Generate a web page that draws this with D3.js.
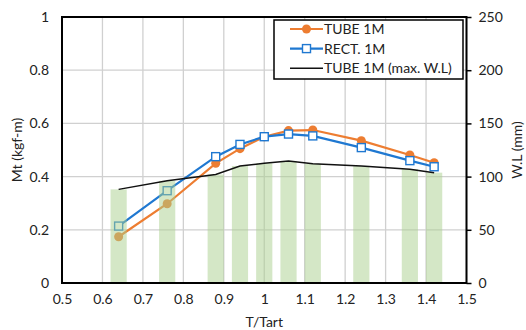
<!DOCTYPE html>
<html>
<head>
<meta charset="utf-8">
<script src="https://cdn.jsdelivr.net/npm/d3@7"></script>
<style>
  body { margin: 0; background: #fff; }
  svg text { font-family: Lato, "Open Sans", sans-serif; fill: #222; }
</style>
</head>
<body>
<div id="chart"></div>
<script>
// data
const ratio = [0.64, 0.76, 0.88, 0.94, 1.0, 1.06, 1.12, 1.24, 1.36, 1.42];
const tubeMt = [0.174, 0.298, 0.45, 0.505, 0.55, 0.573, 0.575, 0.535, 0.481, 0.452];
const rectMt = [0.214, 0.347, 0.475, 0.521, 0.55, 0.56, 0.553, 0.509, 0.46, 0.437];
const tubeWL = [88, 96, 102, 110, 112.5, 114.7, 112, 110, 107, 103.7];
const xTicks = [0.5, 0.6, 0.7, 0.8, 0.9, 1, 1.1, 1.2, 1.3, 1.4, 1.5];
const yTicks = [0, 0.2, 0.4, 0.6, 0.8, 1];
const y2Ticks = [0, 50, 100, 150, 200, 250];

const cfg = { width: 526, height: 330, left: 62, right: 466.5, top: 17, bottom: 283 };
const fontSize = '14px';

const svg = d3.select('#chart').append('svg')
  .attr('width', cfg.width)
  .attr('height', cfg.height);

const x = d3.scaleLinear().domain([0.5, 1.5]).range([cfg.left, cfg.right]);
const y = d3.scaleLinear().domain([0, 1]).range([cfg.bottom, cfg.top]);
const y2 = d3.scaleLinear().domain([0, 250]).range([cfg.bottom, cfg.top]);

// grid
svg.append('g').selectAll('line.vgrid')
  .data(xTicks)
  .join('line')
  .attr('x1', d => x(d)).attr('x2', d => x(d))
  .attr('y1', cfg.top).attr('y2', cfg.bottom)
  .attr('stroke', '#d0d0d0').attr('stroke-width', 1.3);

svg.append('g').selectAll('line.hgrid')
  .data(yTicks)
  .join('line')
  .attr('x1', cfg.left).attr('x2', cfg.right)
  .attr('y1', d => y(d)).attr('y2', d => y(d))
  .attr('stroke', '#d0d0d0').attr('stroke-width', 1.3);

const tube = ratio.map((r, i) => ({ r, v: tubeMt[i] }));
const rect = ratio.map((r, i) => ({ r, v: rectMt[i] }));
const wl = ratio.map((r, i) => ({ r, v: tubeWL[i] }));

const line = d3.line().x(d => x(d.r)).y(d => y(d.v));
const line2 = d3.line().x(d => x(d.r)).y(d => y2(d.v));

// series
svg.append('path').datum(tube)
  .attr('d', line).attr('fill', 'none')
  .attr('stroke', '#ED7D31').attr('stroke-width', 2.2);
svg.append('g').selectAll('circle')
  .data(tube)
  .join('circle')
  .attr('cx', d => x(d.r)).attr('cy', d => y(d.v)).attr('r', 4.5)
  .attr('fill', '#ED7D31');

svg.append('path').datum(rect)
  .attr('d', line).attr('fill', 'none')
  .attr('stroke', '#1F78D1').attr('stroke-width', 2.2);
svg.append('g').selectAll('rect')
  .data(rect)
  .join('rect')
  .attr('x', d => x(d.r) - 4).attr('y', d => y(d.v) - 4)
  .attr('width', 8).attr('height', 8)
  .attr('fill', 'white').attr('stroke', '#1F78D1').attr('stroke-width', 1.4);

// columns on secondary axis (semi transparent, drawn over the lines)
const barW = x(0.54) - x(0.5);
svg.append('g').selectAll('rect')
  .data(wl)
  .join('rect')
  .attr('x', d => x(d.r) - barW / 2)
  .attr('y', d => y2(d.v))
  .attr('width', barW)
  .attr('height', d => cfg.bottom - y2(d.v))
  .attr('fill', '#A9D08E').attr('fill-opacity', 0.5);

svg.append('path').datum(wl)
  .attr('d', line2).attr('fill', 'none')
  .attr('stroke', '#111').attr('stroke-width', 1.5);

// frame
svg.append('rect')
  .attr('x', cfg.left).attr('y', cfg.top)
  .attr('width', cfg.right - cfg.left).attr('height', cfg.bottom - cfg.top)
  .attr('fill', 'none').attr('stroke', '#000').attr('stroke-width', 2);

// axes
const axisX = svg.append('g').attr('transform', `translate(0, ${cfg.bottom})`)
  .call(d3.axisBottom(x).tickValues(xTicks).tickSize(0).tickPadding(11).tickFormat(d3.format('')));
const axisY = svg.append('g').attr('transform', `translate(${cfg.left}, 0)`)
  .call(d3.axisLeft(y).tickValues(yTicks).tickSize(0).tickPadding(13).tickFormat(d3.format('')));
const axisY2 = svg.append('g').attr('transform', `translate(${cfg.right}, 0)`)
  .call(d3.axisRight(y2).tickValues(y2Ticks).tickSize(5).tickPadding(7));

[axisX, axisY, axisY2].forEach(a => {
  a.select('.domain').remove();
  a.selectAll('text').style('font-size', fontSize);
  a.selectAll('line').attr('stroke', '#000').attr('stroke-width', 1.5);
});

// axis titles
svg.append('text')
  .attr('x', (cfg.left + cfg.right) / 2).attr('y', 327)
  .attr('text-anchor', 'middle').style('font-size', fontSize)
  .text('T/Tart');
svg.append('text')
  .attr('transform', `translate(22, ${(cfg.top + cfg.bottom) / 2}) rotate(-90)`)
  .attr('text-anchor', 'middle').style('font-size', fontSize)
  .text('Mt (kgf-m)');
svg.append('text')
  .attr('transform', `translate(522, ${(cfg.top + cfg.bottom) / 2}) rotate(-90)`)
  .attr('text-anchor', 'middle').style('font-size', fontSize)
  .text('W.L (mm)');

// legend
const legend = svg.append('g');
legend.append('rect')
  .attr('x', 274).attr('y', 20).attr('width', 189).attr('height', 59)
  .attr('fill', 'white').attr('stroke', '#000').attr('stroke-width', 1.5);

const legendItems = [
  { name: 'TUBE 1M', color: '#ED7D31', w: 2.2, marker: 'circle' },
  { name: 'RECT. 1M', color: '#1F78D1', w: 2.2, marker: 'square' },
  { name: 'TUBE 1M (max. W.L)', color: '#111', w: 1.5, marker: null }
];
const rows = legend.selectAll('g.item')
  .data(legendItems)
  .join('g')
  .attr('class', 'item')
  .attr('transform', (d, i) => `translate(0, ${29 + i * 19.6})`);
rows.append('line')
  .attr('x1', 290).attr('x2', 323).attr('y1', 0).attr('y2', 0)
  .attr('stroke', d => d.color).attr('stroke-width', d => d.w);
rows.filter(d => d.marker === 'circle').append('circle')
  .attr('cx', 306.5).attr('cy', 0).attr('r', 4.5).attr('fill', d => d.color);
rows.filter(d => d.marker === 'square').append('rect')
  .attr('x', 302.5).attr('y', -4).attr('width', 8).attr('height', 8)
  .attr('fill', 'white').attr('stroke', d => d.color).attr('stroke-width', 1.4);
rows.append('text')
  .attr('x', 324).attr('y', 0).attr('dy', '0.35em')
  .style('font-size', fontSize)
  .text(d => d.name);
</script>
</body>
</html>
